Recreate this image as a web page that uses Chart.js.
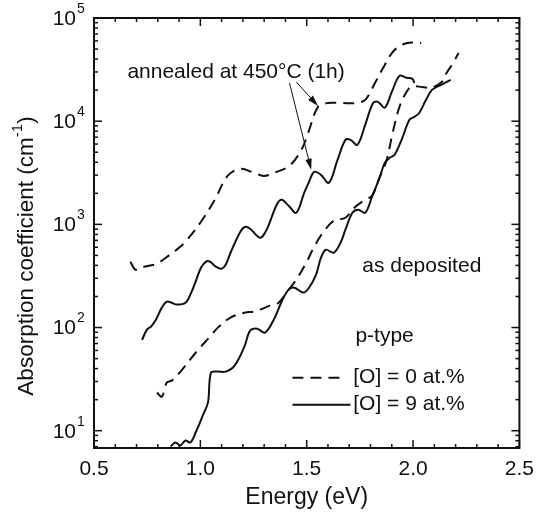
<!DOCTYPE html>
<html>
<head>
<meta charset="utf-8">
<script src="https://cdn.jsdelivr.net/npm/chart.js@4.4.1/dist/chart.umd.min.js"></script>
<style>
  html, body { margin: 0; padding: 0; background: #fff; }
</style>
</head>
<body>
<canvas id="chart" width="543" height="518"></canvas>
<script>
'use strict';

// Energy (eV) / absorption coefficient (cm^-1)
const annealedO0Energy = [0.671, 0.694, 0.717, 0.759, 0.796, 0.851, 0.888, 0.930, 1.003, 1.068, 1.128, 1.188, 1.253, 1.299, 1.359, 1.419, 1.475, 1.507, 1.553, 1.599, 1.669, 1.729, 1.775, 1.821, 1.867, 1.913, 1.973, 2.038];
const annealedO0Alpha = [434, 364, 380, 397, 416, 497, 568, 679, 1060, 1730, 2950, 3450, 3160, 2950, 3230, 3690, 5270, 7710, 13750, 15000, 15000, 15000, 16100, 23500, 35100, 49000, 57300, 57300];

const annealedO9Energy = [0.726, 0.749, 0.768, 0.791, 0.819, 0.842, 0.865, 0.888, 0.930, 0.957, 0.976, 1.003, 1.027, 1.045, 1.073, 1.100, 1.119, 1.142, 1.188, 1.211, 1.234, 1.281, 1.304, 1.322, 1.359, 1.382, 1.415, 1.451, 1.488, 1.511, 1.535, 1.567, 1.604, 1.645, 1.682, 1.706, 1.738, 1.775, 1.812, 1.835, 1.867, 1.900, 1.936, 1.969, 1.997, 2.006];
const annealedO9Alpha = [76, 95.5, 102, 119, 156, 178, 174, 167, 174, 218, 272, 380, 435, 435, 389, 372, 406, 531, 848, 948, 906, 741, 829, 991, 1549, 1730, 1514, 1295, 2023, 2583, 3230, 3020, 2528, 4220, 6590, 6590, 5900, 9210, 15000, 15400, 13500, 19200, 27500, 26300, 25700, 23500];

const depositedO0Energy = [0.796, 0.819, 0.842, 0.865, 0.911, 0.990, 1.050, 1.082, 1.142, 1.207, 1.253, 1.281, 1.327, 1.368, 1.405, 1.451, 1.498, 1.535, 1.576, 1.627, 1.682, 1.729, 1.775, 1.807, 1.844, 1.876, 1.904, 1.936, 1.969, 1.992, 2.043, 2.084, 2.135, 2.158, 2.191, 2.214];
const depositedO0Alpha = [23.4, 21.4, 29.3, 30.6, 38.3, 61.1, 83.5, 99.8, 125, 139, 143, 149, 163, 174, 218, 291, 425, 607, 829, 1084, 1159, 1479, 1730, 1892, 2891, 4220, 7710, 13750, 19200, 21500, 21500, 21000, 24000, 29400, 37500, 45800];

const depositedO9Energy = [0.860, 0.883, 0.906, 0.930, 0.953, 0.980, 1.013, 1.036, 1.050, 1.082, 1.119, 1.161, 1.207, 1.234, 1.267, 1.304, 1.345, 1.382, 1.415, 1.442, 1.484, 1.511, 1.544, 1.567, 1.590, 1.627, 1.659, 1.682, 1.715, 1.743, 1.775, 1.807, 1.844, 1.867, 1.890, 1.913, 1.946, 1.983, 2.006, 2.029, 2.061, 2.089, 2.130, 2.177];
const depositedO9Alpha = [7.03, 7.69, 7.19, 8.04, 7.69, 9.82, 14.3, 18.8, 36.6, 37.4, 37.4, 42.8, 65.3, 93.3, 97.5, 89.3, 119, 178, 233, 243, 218, 243, 325, 475, 568, 531, 664, 887, 1295, 1384, 1295, 1849, 2891, 3945, 4416, 4721, 6590, 10300, 11000, 12000, 16100, 20100, 22400, 25100];

const xTickValues = [0.5, 1.0, 1.5, 2.0, 2.5];
const yDecades = [1, 2, 3, 4, 5];
const X_MIN = 0.5, X_MAX = 2.5;
const Y_MIN = 6.8, Y_MAX = 1e5;

const INK = '#111';
const FONT = '"Liberation Sans", Arial, Helvetica, sans-serif';
const DASH = [11, 7];

function toPoints(xs, ys) {
  return xs.map((x, i) => ({ x, y: ys[i] }));
}

function line(ctx, x1, y1, x2, y2) {
  ctx.beginPath();
  ctx.moveTo(x1, y1);
  ctx.lineTo(x2, y2);
  ctx.stroke();
}

function arrow(ctx, x1, y1, x2, y2) {
  const ang = Math.atan2(y2 - y1, x2 - x1);
  const hl = 11, hw = 3.2;
  const bx = x2 - hl * Math.cos(ang), by = y2 - hl * Math.sin(ang);
  line(ctx, x1, y1, bx, by);
  ctx.beginPath();
  ctx.moveTo(x2, y2);
  ctx.lineTo(bx + hw * Math.sin(ang), by - hw * Math.cos(ang));
  ctx.lineTo(bx - hw * Math.sin(ang), by + hw * Math.cos(ang));
  ctx.closePath();
  ctx.fill();
}

// frame, inward ticks on all sides, power-of-ten labels, y title, notes, legend
const decorations = {
  id: 'decorations',
  afterDraw(chart) {
    const { ctx, chartArea: a, scales: { x, y } } = chart;
    ctx.save();
    ctx.strokeStyle = INK;
    ctx.fillStyle = INK;
    ctx.setLineDash([]);

    ctx.lineWidth = 2;
    ctx.strokeRect(a.left, a.top, a.right - a.left, a.bottom - a.top);

    ctx.lineWidth = 1.5;
    for (let i = 5; i <= 25; i++) {
      const px = x.getPixelForValue(i / 10);
      const len = i % 5 === 0 ? 8 : 4;
      line(ctx, px, a.bottom, px, a.bottom - len);
      line(ctx, px, a.top, px, a.top + len);
    }
    for (let k = 0; k <= 5; k++) {
      for (let m = 1; m <= 9; m++) {
        const v = m * Math.pow(10, k);
        if (v < Y_MIN || v > Y_MAX) continue;
        const py = y.getPixelForValue(v);
        const len = m === 1 ? 8 : 4;
        line(ctx, a.left, py, a.left + len, py);
        line(ctx, a.right, py, a.right - len, py);
      }
    }

    // y tick labels 10^n
    ctx.textBaseline = 'middle';
    y.ticks.forEach((t) => {
      const py = y.getPixelForValue(t.value);
      const exp = String(Math.round(Math.log10(t.value)));
      ctx.font = '14px ' + FONT;
      ctx.textAlign = 'left';
      ctx.fillText(exp, a.left - 17, py - 9);
      ctx.font = '21px ' + FONT;
      ctx.textAlign = 'right';
      ctx.fillText('10', a.left - 18, py + 1);
    });

    // y axis title with superscript
    ctx.save();
    ctx.translate(27, (a.top + a.bottom) / 2 + 23);
    ctx.rotate(-Math.PI / 2);
    const main = 'Absorption coefficient (cm';
    ctx.font = '22.5px ' + FONT;
    const w1 = ctx.measureText(main).width;
    const w3 = ctx.measureText(')').width;
    ctx.font = '15px ' + FONT;
    const w2 = ctx.measureText('-1').width;
    let sx = -(w1 + w2 + w3) / 2;
    ctx.textAlign = 'left';
    ctx.font = '22.5px ' + FONT;
    ctx.fillText(main, sx, 0);
    sx += w1;
    ctx.font = '15px ' + FONT;
    ctx.fillText('-1', sx, -9);
    sx += w2;
    ctx.font = '22.5px ' + FONT;
    ctx.fillText(')', sx, 0);
    ctx.restore();

    // notes
    ctx.font = '21px ' + FONT;
    ctx.textAlign = 'left';
    ctx.textBaseline = 'middle';
    ctx.fillText('annealed at 450\u00B0C (1h)', x.getPixelForValue(0.657), y.getPixelForValue(30000));
    ctx.fillText('as deposited', x.getPixelForValue(1.761), y.getPixelForValue(389));
    ctx.fillText('p-type', x.getPixelForValue(1.729), y.getPixelForValue(81.7));

    ctx.lineWidth = 1;
    arrow(ctx, x.getPixelForValue(1.419), y.getPixelForValue(23500), x.getPixelForValue(1.521), y.getPixelForValue(3380));
    arrow(ctx, x.getPixelForValue(1.451), y.getPixelForValue(24000), x.getPixelForValue(1.553), y.getPixelForValue(14060));

    // legend
    const rows = [
      { text: '[O] = 0 at.%', dash: DASH, x2: 1.673, yv: 32.7 },
      { text: '[O] = 9 at.%', dash: [], x2: 1.706, yv: 17.9 },
    ];
    rows.forEach((r) => {
      const py = y.getPixelForValue(r.yv);
      ctx.lineWidth = 2;
      ctx.setLineDash(r.dash);
      line(ctx, x.getPixelForValue(1.433), py, x.getPixelForValue(r.x2), py);
      ctx.setLineDash([]);
      ctx.fillText(r.text, x.getPixelForValue(1.719), py);
    });
    ctx.restore();
  },
};

function series(label, xs, ys, dashed) {
  return {
    label,
    data: toPoints(xs, ys),
    borderColor: INK,
    borderWidth: 2,
    borderDash: dashed ? DASH : [],
    pointRadius: 0,
    tension: 0.35,
    fill: false,
  };
}

new Chart(document.getElementById('chart').getContext('2d'), {
  type: 'line',
  data: {
    datasets: [
      series('annealed, [O] = 0 at.%', annealedO0Energy, annealedO0Alpha, true),
      series('annealed, [O] = 9 at.%', annealedO9Energy, annealedO9Alpha, false),
      series('as deposited, [O] = 0 at.%', depositedO0Energy, depositedO0Alpha, true),
      series('as deposited, [O] = 9 at.%', depositedO9Energy, depositedO9Alpha, false),
    ],
  },
  options: {
    responsive: false,
    animation: false,
    layout: { padding: { top: 18, right: 16, left: 0, bottom: 0 } },
    plugins: { legend: { display: false }, tooltip: { enabled: false } },
    scales: {
      x: {
        type: 'linear',
        min: X_MIN,
        max: X_MAX,
        afterBuildTicks: (s) => { s.ticks = xTickValues.map((v) => ({ value: v })); },
        afterFit: (s) => { s.height = 70; },
        grid: { display: false, drawTicks: false },
        border: { display: false },
        ticks: {
          padding: 9,
          autoSkip: false,
          maxRotation: 0,
          color: INK,
          font: { family: FONT, size: 21 },
          callback: (v) => Number(v).toFixed(1),
        },
        title: {
          display: true,
          text: 'Energy (eV)',
          color: INK,
          font: { family: FONT, size: 23 },
          padding: { top: 0, bottom: 7 },
        },
      },
      y: {
        type: 'logarithmic',
        min: Y_MIN,
        max: Y_MAX,
        afterBuildTicks: (s) => { s.ticks = yDecades.map((k) => ({ value: Math.pow(10, k) })); },
        afterFit: (s) => { s.width = 94; },
        grid: { display: false, drawTicks: false },
        border: { display: false },
        ticks: { display: false },
      },
    },
  },
  plugins: [decorations],
});
</script>
</body>
</html>
